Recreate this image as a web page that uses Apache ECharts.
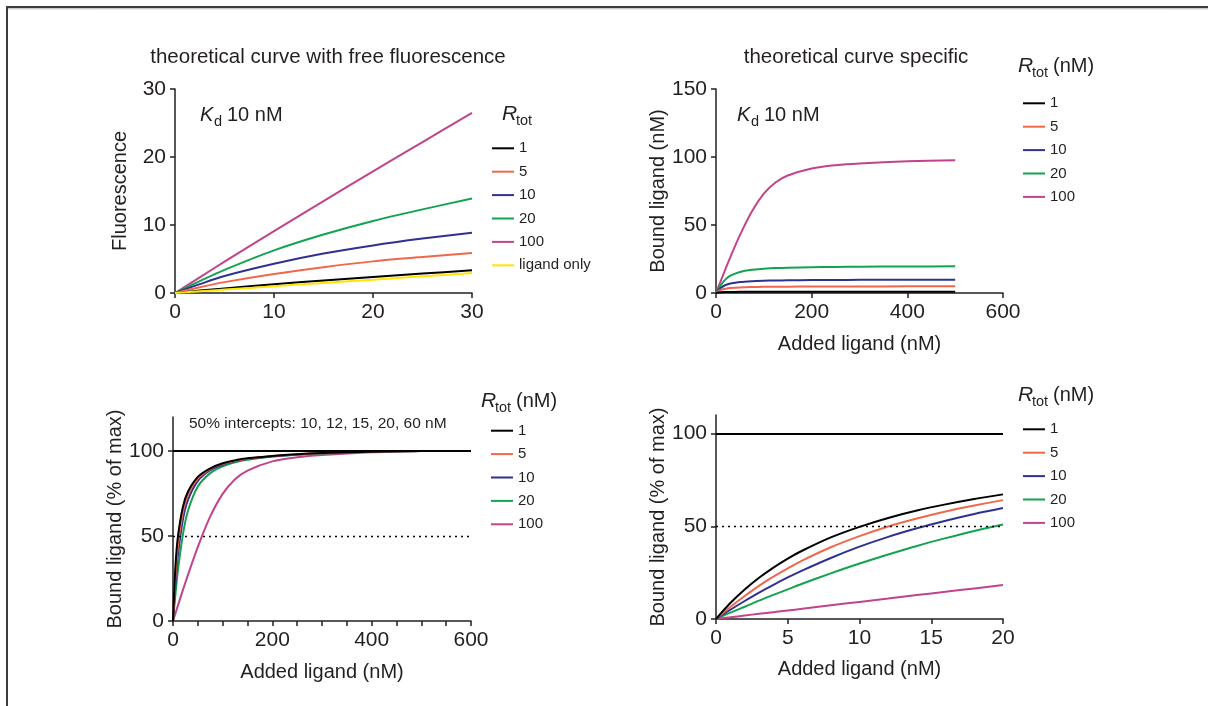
<!DOCTYPE html>
<html>
<head>
<meta charset="utf-8">
<script src="https://cdn.jsdelivr.net/npm/echarts@6/dist/echarts.min.js"></script>
<style>
  html, body { margin: 0; padding: 0; background: #fff; }
  #chart { width: 1208px; height: 706px; }
</style>
</head>
<body>
<div id="chart"></div>
<script>
// ---- Fluorescence vs added ligand (0–30 nM), Kd 10 nM ----
const fluoX          = [0, 2.5, 5, 10, 15, 20, 25, 30];
const fluoR1         = [0, 0.35, 0.68, 1.3, 1.85, 2.35, 2.85, 3.33];
const fluoR5         = [0, 0.85, 1.6, 2.8, 3.8, 4.65, 5.3, 5.88];
const fluoR10        = [0, 1.3, 2.5, 4.3, 5.8, 7.0, 8.0, 8.87];
const fluoR20        = [0, 1.75, 3.4, 6.27, 8.6, 10.6, 12.3, 13.9];
const fluoR100       = [0, 2.3, 4.6, 9.1, 13.5, 17.9, 22.2, 26.5];
const fluoLigandOnly = [0, 0.25, 0.5, 1.0, 1.48, 1.96, 2.45, 2.94];

// ---- Specifically bound ligand (nM) vs added ligand (0–500 nM) ----
const boundX    = [0, 5, 10, 20, 30, 50, 75, 100, 125, 150, 200, 250, 300, 400, 500];
const boundR1   = [0, 0.32, 0.49, 0.66, 0.75, 0.83, 0.88, 0.91, 0.93, 0.94, 0.95, 0.96, 0.97, 0.98, 0.98];
const boundR5   = [0, 1.34, 2.19, 3.14, 3.63, 4.11, 4.38, 4.53, 4.62, 4.68, 4.76, 4.80, 4.84, 4.88, 4.90];
const boundR10  = [0, 2.19, 3.82, 5.86, 6.97, 8.08, 8.69, 9.01, 9.21, 9.34, 9.50, 9.60, 9.68, 9.76, 9.80];
const boundR20  = [0, 3.14, 5.86, 10.0, 12.7, 15.5, 17.1, 17.8, 18.3, 18.6, 18.95, 19.2, 19.3, 19.5, 19.6];
const boundR100 = [0, 4.5, 9.0, 17.8, 26.4, 42.6, 60.0, 73.0, 81.4, 86.4, 91.6, 94.0, 95.3, 96.8, 97.6];

// ---- Bound ligand as % of max, full range (0–500 nM) ----
const pctWideX    = boundX;
const pctWideR1   = [0, 32.6, 49.8, 67.2, 76.0, 84.8, 89.8, 92.8, 94.5, 95.7, 97.1, 98.1, 98.8, 99.6, 100];
const pctWideR5   = [0, 27.3, 44.7, 64.1, 74.1, 83.9, 89.4, 92.4, 94.2, 95.5, 97.1, 98.0, 98.8, 99.6, 100];
const pctWideR10  = [0, 22.3, 39.0, 59.8, 71.1, 82.4, 88.7, 91.9, 93.9, 95.3, 96.9, 98.0, 98.8, 99.6, 100];
const pctWideR20  = [0, 16.0, 29.9, 51.0, 64.7, 79.1, 87.0, 91.0, 93.4, 94.9, 96.7, 97.8, 98.5, 99.5, 100];
const pctWideR100 = [0, 4.6, 9.2, 18.3, 27.0, 43.6, 61.5, 74.8, 83.4, 88.5, 93.9, 96.3, 97.6, 99.2, 100];

// ---- Bound ligand as % of max, low range (0–20 nM) ----
const pctLowX    = [0, 1, 2, 3, 4, 5, 6, 8, 10, 12, 14, 16, 18, 20];
const pctLowR1   = [0, 8.6, 15.9, 22.2, 27.7, 32.6, 36.8, 44.0, 49.7, 54.5, 58.5, 61.8, 64.7, 67.2];
const pctLowR5   = [0, 6.5, 12.4, 17.9, 22.8, 27.3, 31.5, 38.7, 44.7, 49.9, 54.2, 58.0, 61.2, 64.1];
const pctLowR10  = [0, 5.0, 9.7, 14.2, 18.4, 22.4, 26.1, 32.9, 39.0, 44.3, 48.9, 53.0, 56.6, 59.8];
const pctLowR20  = [0, 3.4, 6.6, 9.9, 13.0, 16.0, 19.0, 24.6, 29.9, 34.8, 39.4, 43.6, 47.5, 51.0];
const pctLowR100 = [0, 0.9, 1.9, 2.8, 3.7, 4.6, 5.5, 7.4, 9.2, 11.0, 12.9, 14.7, 16.5, 18.3];

// reference levels and labels
const maxLevel  = 100;
const halfLevel = 50;
const rtotNames = ['1', '5', '10', '20', '100'];
const ligandOnlyName = 'ligand only';
const interceptText = '50% intercepts: 10, 12, 15, 20, 60 nM';
const titleLeft  = 'theoretical curve with free fluorescence';
const titleRight = 'theoretical curve specific';

const FONT = '"Liberation Sans", Arial, Helvetica, sans-serif';
const INK = '#231f20';
const colors = {
  '1': '#000000',
  '5': '#f0674c',
  '10': '#2e3192',
  '20': '#12a350',
  '100': '#c1448b',
  'ligand only': '#ffe500'
};

const pairs = (xs, ys) => xs.map((x, i) => [x, ys[i]]);

function curve(name, idx, xs, ys, extra) {
  return Object.assign({
    type: 'line',
    name: name,
    xAxisIndex: idx,
    yAxisIndex: idx,
    data: pairs(xs, ys),
    smooth: 0.3,
    showSymbol: false,
    symbol: 'none',
    silent: true,
    animation: false,
    itemStyle: { color: colors[name] },
    lineStyle: { color: colors[name], width: 2 }
  }, extra || {});
}

function valueAxis(idx, min, max, interval, extra) {
  return Object.assign({
    type: 'value',
    gridIndex: idx,
    min: min,
    max: max,
    interval: interval,
    axisLine: { show: true, onZero: false, lineStyle: { color: INK, width: 1.5 } },
    axisTick: { show: true, inside: false, length: 5, lineStyle: { color: INK, width: 1.5 } },
    axisLabel: { fontSize: 21, color: INK, fontFamily: FONT, margin: 9 },
    splitLine: { show: false },
    nameTextStyle: { fontSize: 20, color: INK, fontFamily: FONT },
    nameLocation: 'middle'
  }, extra || {});
}

const refLines = {
  silent: true,
  symbol: 'none',
  label: { show: false },
  animation: false,
  data: [
    { yAxis: maxLevel, lineStyle: { color: '#000', width: 2, type: 'solid' } },
    { yAxis: halfLevel, lineStyle: { color: '#000', width: 1.3, type: [2, 4] } }
  ]
};

const series = [];
// panel 0: fluorescence
[['100', fluoR100], ['20', fluoR20], ['10', fluoR10], ['5', fluoR5], ['1', fluoR1]].forEach(([n, ys]) => series.push(curve(n, 0, fluoX, ys)));
series.push(curve(ligandOnlyName, 0, fluoX, fluoLigandOnly));
// panel 1: bound ligand (nM)
[['100', boundR100], ['20', boundR20], ['10', boundR10], ['5', boundR5], ['1', boundR1]].forEach(([n, ys]) => series.push(curve(n, 1, boundX, ys)));
// panel 2: % of max, wide range
[['100', pctWideR100], ['20', pctWideR20], ['10', pctWideR10], ['5', pctWideR5], ['1', pctWideR1]].forEach(([n, ys], k) =>
  series.push(curve(n, 2, pctWideX, ys, k === 0 ? { markLine: refLines } : null)));
// panel 3: % of max, low range
[['100', pctLowR100], ['20', pctLowR20], ['10', pctLowR10], ['5', pctLowR5], ['1', pctLowR1]].forEach(([n, ys], k) =>
  series.push(curve(n, 3, pctLowX, ys, k === 0 ? { markLine: refLines } : null)));

function legendAt(left, top, names) {
  return {
    orient: 'vertical',
    left: left,
    top: top,
    padding: 0,
    itemGap: 0,
    itemWidth: 22,
    itemHeight: 2,
    icon: 'rect',
    selectedMode: false,
    data: names,
    textStyle: { fontSize: 15, color: INK, fontFamily: FONT, lineHeight: 23.4 }
  };
}

function rtotLabel(x, y, withUnit) {
  const els = [
    { type: 'text', left: x, top: y - 10, style: { text: 'R', font: 'italic 21px ' + FONT, fill: INK } },
    { type: 'text', left: x + 14, top: y - 1, style: { text: 'tot', font: '14.5px ' + FONT, fill: INK } }
  ];
  if (withUnit) {
    els.push({ type: 'text', left: x + 35, top: y - 10, style: { text: '(nM)', font: '20px ' + FONT, fill: INK } });
  }
  return els;
}

function kdLabel(x, y) {
  return [
    { type: 'text', left: x, top: y - 11, style: { text: 'K', font: 'italic 20px ' + FONT, fill: INK } },
    { type: 'text', left: x + 14, top: y - 2, style: { text: 'd', font: '14.5px ' + FONT, fill: INK } },
    { type: 'text', left: x + 27, top: y - 11, style: { text: '10 nM', font: '20px ' + FONT, fill: INK } }
  ];
}

const graphics = [
  // frame
  { type: 'line', shape: { x1: 6, y1: 7, x2: 1208, y2: 7 }, style: { stroke: '#3c3c3c', lineWidth: 2 } },
  { type: 'line', shape: { x1: 7, y1: 7, x2: 7, y2: 706 }, style: { stroke: '#3c3c3c', lineWidth: 2 } },
  { type: 'line', shape: { x1: 8, y1: 8.8, x2: 1208, y2: 8.8 }, style: { stroke: '#b4b4b4', lineWidth: 1 } },
  // titles
  { type: 'text', x: 328, y: 57, style: { text: titleLeft, font: '20.5px ' + FONT, fill: INK, align: 'center', verticalAlign: 'middle' } },
  { type: 'text', x: 856, y: 57, style: { text: titleRight, font: '20.5px ' + FONT, fill: INK, align: 'center', verticalAlign: 'middle' } },
  // annotation
  { type: 'text', x: 189, y: 424, style: { text: interceptText, font: '15.5px ' + FONT, fill: INK, align: 'left', verticalAlign: 'middle' } }
].concat(
  kdLabel(200, 116), kdLabel(737, 116),
  rtotLabel(502, 114, false), rtotLabel(1018, 66, true),
  rtotLabel(481, 401, true), rtotLabel(1018, 395, true)
);

const option = {
  backgroundColor: '#ffffff',
  animation: false,
  textStyle: { fontFamily: FONT },
  grid: [
    { left: 175, top: 89, width: 297, height: 204 },
    { left: 716, top: 89, width: 287, height: 204 },
    { left: 173, top: 417, width: 298, height: 204 },
    { left: 716, top: 415, width: 287, height: 204 }
  ],
  xAxis: [
    valueAxis(0, 0, 30, 10),
    valueAxis(1, 0, 600, 200, { name: 'Added ligand (nM)', nameGap: 41 }),
    valueAxis(2, 0, 600, 200, {
      name: 'Added ligand (nM)', nameGap: 41,
      minorTick: { show: true, splitNumber: 4, length: 5, lineStyle: { color: INK, width: 1.5 } }
    }),
    valueAxis(3, 0, 20, 5, { name: 'Added ligand (nM)', nameGap: 40 })
  ],
  yAxis: [
    valueAxis(0, 0, 30, 10, { name: 'Fluorescence', nameGap: 45 }),
    valueAxis(1, 0, 150, 50, { name: 'Bound ligand (nM)', nameGap: 47 }),
    valueAxis(2, 0, 120, 10, {
      name: 'Bound ligand (% of max)', nameGap: 47,
      axisTick: { show: true, length: 5, customValues: [0, halfLevel, maxLevel], lineStyle: { color: INK, width: 1.5 } },
      axisLabel: { fontSize: 21, color: INK, fontFamily: FONT, margin: 9, customValues: [0, halfLevel, maxLevel] }
    }),
    valueAxis(3, 0, 110, 10, {
      name: 'Bound ligand (% of max)', nameGap: 47,
      axisTick: { show: true, length: 5, customValues: [0, halfLevel, maxLevel], lineStyle: { color: INK, width: 1.5 } },
      axisLabel: { fontSize: 21, color: INK, fontFamily: FONT, margin: 9, customValues: [0, halfLevel, maxLevel] }
    })
  ],
  legend: [
    legendAt(492, 136.6, rtotNames.concat([ligandOnlyName])),
    legendAt(1023, 91.6, rtotNames),
    legendAt(491, 419, rtotNames),
    legendAt(1023, 417.6, rtotNames)
  ],
  graphic: graphics,
  series: series
};

const chart = echarts.init(document.getElementById('chart'), null, { renderer: 'canvas' });
chart.setOption(option);
</script>
</body>
</html>
